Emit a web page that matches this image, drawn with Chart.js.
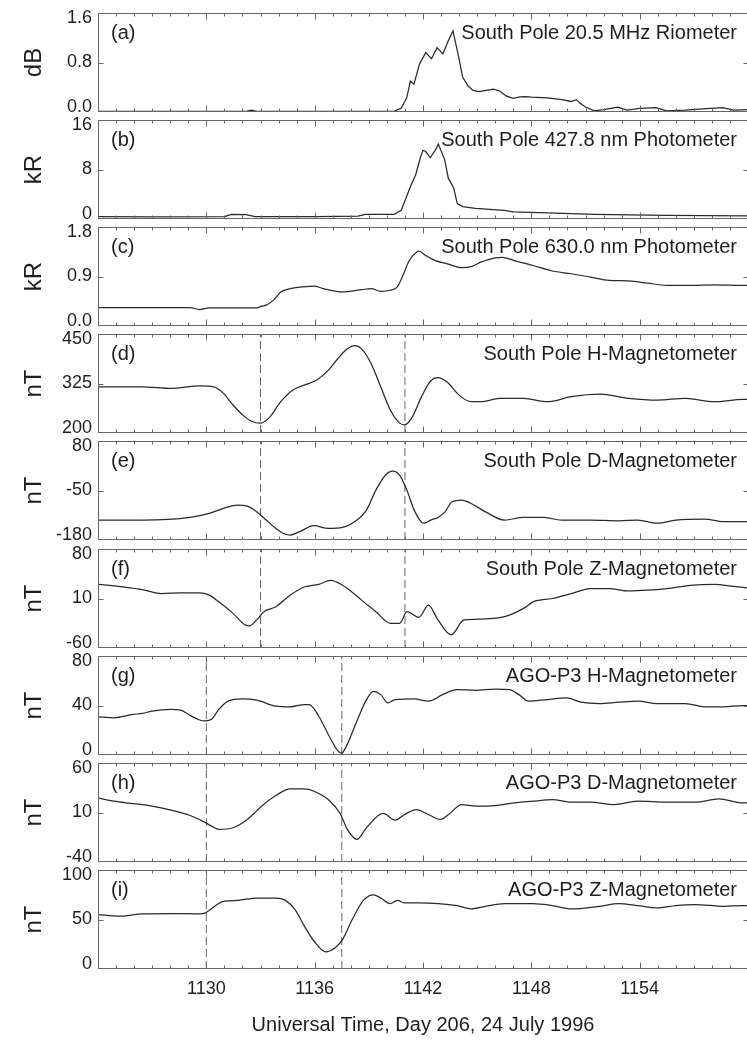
<!DOCTYPE html>
<html lang="en">
<head>
<meta charset="UTF-8">
<title>South Pole and AGO-P3, Day 206, 24 July 1996</title>
<script src="https://cdn.jsdelivr.net/npm/chart.js"></script>
<style>
  html, body { margin: 0; padding: 0; background: #fff; overflow: hidden; }
  #wrap { position: relative; width: 747px; height: 1042px; overflow: hidden; }
  #wrap canvas { position: absolute; left: 0; }
</style>
</head>
<body>
<div id="wrap"></div>
<script>
// [minute (UT hhmm), value]
const riometer = [[1124.0,0.01],[1128.0,0.01],[1132.2,0.01],[1132.5,0.03],[1132.8,0.01],[1136.0,0.01],[1140.4,0.01],
  [1140.8,0.065],[1141.1,0.23],[1141.3,0.50],[1141.5,0.45],[1141.8,0.77],[1142.15,0.96],[1142.47,0.86],[1142.78,1.04],
  [1143.1,0.94],[1143.4,1.15],[1143.66,1.31],[1143.94,0.94],[1144.2,0.56],[1144.5,0.42],[1144.77,0.35],[1145.1,0.33],
  [1145.5,0.35],[1145.9,0.37],[1146.25,0.34],[1146.6,0.26],[1147.0,0.22],[1147.36,0.245],[1147.7,0.25],[1148.0,0.24],
  [1148.9,0.23],[1149.7,0.20],[1150.2,0.17],[1150.5,0.20],[1150.7,0.14],[1151.0,0.08],[1151.5,0.02],[1152.0,0.04],
  [1152.8,0.08],[1153.3,0.03],[1154.0,0.06],[1154.9,0.07],[1155.5,0.02],[1156.5,0.03],[1157.5,0.05],[1158.6,0.07],
  [1159.2,0.03],[1160.0,0.04]];
const phot4278 = [[1124.0,0.4],[1127.0,0.35],[1131.0,0.4],[1131.4,0.75],[1132.2,0.7],[1132.7,0.4],[1136.0,0.4],[1138.4,0.45],
  [1138.8,0.75],[1140.4,0.75],[1140.8,1.4],[1141.05,3.3],[1141.3,5.2],[1141.6,7.2],[1141.85,9.9],[1142.0,11.1],
  [1142.15,10.9],[1142.4,9.9],[1142.7,11.2],[1142.85,12.1],[1143.2,9.6],[1143.4,6.6],[1143.7,5.0],[1143.9,2.5],
  [1144.2,2.0],[1144.9,1.7],[1145.5,1.6],[1146.5,1.4],[1147.0,1.15],[1148.9,1.0],[1151.5,0.76],[1155.5,0.6],[1160.0,0.5]];
const phot6300 = [[1124.0,0.336],[1126.46,0.336],[1129.10,0.336],[1129.63,0.30],[1130.16,0.33],[1132.79,0.33],[1133.06,0.36],
  [1133.32,0.38],[1133.72,0.47],[1134.12,0.62],[1134.64,0.68],[1135.30,0.71],[1135.96,0.726],[1136.49,0.68],[1137.55,0.62],
  [1138.60,0.66],[1139.13,0.68],[1139.66,0.63],[1140.19,0.65],[1140.58,0.71],[1140.85,0.89],[1141.24,1.19],[1141.64,1.34],
  [1141.77,1.36],[1142.16,1.28],[1142.69,1.19],[1143.35,1.13],[1144.14,1.06],[1144.67,1.08],[1145.20,1.16],[1145.99,1.24],
  [1146.39,1.25],[1147.05,1.19],[1148.10,1.10],[1149.16,1.00],[1150.21,0.95],[1151.27,0.89],[1152.32,0.83],[1153.38,0.82],
  [1154.43,0.78],[1155.49,0.74],[1156.81,0.74],[1158.13,0.75],[1159.71,0.74],[1160.0,0.74]];
const spH = [[1124.0,316.7],[1126.46,316.7],[1128.05,312.5],[1129.63,319],[1130.42,316.7],[1130.95,300],[1131.48,270.8],
  [1132.01,245.8],[1132.53,229],[1133.01,225],[1133.46,237.5],[1134.12,279],[1134.78,308],[1135.43,321],[1136.09,333],
  [1136.75,358],[1137.28,387.5],[1137.81,412.5],[1138.21,420.8],[1138.60,412.5],[1139.13,375],[1139.66,316.7],[1140.19,258],
  [1140.71,225],[1140.98,220.8],[1141.37,237.5],[1141.90,290],[1142.43,332],[1142.83,340],[1143.35,328],[1144.01,295],
  [1144.67,279],[1145.20,279],[1146.25,287.5],[1147.57,287.5],[1148.89,279],[1150.21,291.7],[1151.79,298],[1153.38,287.5],
  [1154.96,283],[1156.54,287.5],[1158.13,279],[1159.71,285],[1160.0,285]];
const spD = [[1124.0,-127.7],[1126.46,-127.7],[1129.10,-120.7],[1130.16,-110],[1130.95,-97],[1131.74,-88.4],[1132.27,-91],
  [1132.79,-105.8],[1133.32,-127.7],[1133.85,-149.5],[1134.38,-165],[1134.64,-167],[1135.17,-158],[1135.96,-142.5],
  [1136.75,-149.5],[1137.55,-147],[1138.34,-127.7],[1138.87,-101.5],[1139.39,-49],[1139.92,-9.9],[1140.32,0.6],[1140.71,-10],
  [1141.11,-49],[1141.51,-101.5],[1142.03,-136],[1142.43,-127.7],[1142.83,-120.7],[1143.22,-106],[1143.61,-79.6],
  [1144.14,-75],[1144.67,-84],[1145.46,-106],[1146.52,-127.7],[1147.57,-120.7],[1148.63,-120.7],[1149.68,-127.7],
  [1151.27,-127.7],[1152.85,-129.5],[1153.90,-127.7],[1154.96,-136],[1156.01,-127.7],[1157.60,-125],[1158.65,-132],
  [1159.71,-132],[1160.0,-132]];
const spZ = [[1124.0,30.1],[1125.41,26.3],[1126.46,22.6],[1127.52,17],[1128.58,18],[1129.63,18],[1130.16,14.7],[1130.69,5.3],
  [1131.48,-11],[1132.14,-27.3],[1132.40,-28.7],[1132.79,-20.3],[1133.19,-8.7],[1133.85,-1.7],[1134.64,14.7],[1135.43,26.3],
  [1136.22,30],[1136.89,35.7],[1137.55,28.7],[1138.60,7.7],[1139.39,-8.7],[1140.19,-25],[1140.71,-25],[1141.11,-8.7],
  [1141.77,-16.6],[1142.30,0.7],[1142.83,-20.3],[1143.56,-41.3],[1144.27,-20.3],[1144.93,-19.4],[1146.52,-15.7],
  [1147.57,-4],[1148.10,5.3],[1149.16,10],[1150.21,17],[1151.27,24],[1152.32,24],[1153.38,20.7],[1154.43,21.7],
  [1155.49,24],[1156.81,28.7],[1158.13,30],[1159.18,27.3],[1159.84,25.4],[1160.0,25]];
const agoH = [[1124.0,30.9],[1124.88,30.1],[1125.94,32.8],[1126.46,33.6],[1126.99,35.5],[1128.05,36.8],[1128.58,36.3],
  [1129.10,32],[1129.63,28.3],[1129.95,27.5],[1130.29,28.8],[1130.69,36.8],[1131.21,43.5],[1132.01,45.3],[1132.79,44.3],
  [1133.85,39.5],[1134.64,38.9],[1135.43,40.8],[1135.70,40.8],[1136.22,31.5],[1136.75,16.8],[1137.28,3.5],[1137.49,1.5],
  [1137.81,8.8],[1138.34,27.5],[1138.87,44.8],[1139.26,51.5],[1139.66,48.8],[1140.05,42.1],[1140.45,44.8],[1141.51,45.3],
  [1142.30,43.5],[1143.09,48.8],[1143.88,52.8],[1144.93,52.3],[1145.99,53.3],[1146.78,52.8],[1147.31,48.8],[1147.84,43.5],
  [1148.89,44.8],[1149.95,46.1],[1150.74,42.7],[1151.79,41.6],[1152.85,42.7],[1153.90,43.5],[1154.96,41.6],[1156.54,41.6],
  [1157.60,38.9],[1158.65,38.9],[1159.71,40],[1160.0,40]];
const agoD = [[1124.0,24.8],[1124.88,21.4],[1125.94,19],[1126.99,16.4],[1128.05,12.3],[1129.10,7],[1129.90,0.3],[1130.29,-3.8],
  [1130.69,-7.1],[1131.48,-5.4],[1132.27,3],[1133.06,16.4],[1133.85,27.1],[1134.64,33.8],[1135.43,33.8],[1135.96,31.5],
  [1136.75,23.1],[1137.41,9],[1137.81,-7.1],[1138.34,-17.2],[1138.87,-5.4],[1139.79,9],[1140.45,2.3],[1140.98,8],
  [1141.64,13],[1142.30,8],[1142.96,3],[1143.48,9],[1144.14,18],[1144.93,16.4],[1145.99,17],[1147.05,19.7],[1148.10,21.4],
  [1149.16,23.1],[1150.21,20.4],[1151.27,20.4],[1152.58,18],[1153.90,21.4],[1155.49,20.4],[1157.07,20.4],[1158.39,23.8],
  [1159.71,19.7],[1160.0,19.7]];
const agoZ = [[1124.0,55],[1125.15,53.3],[1126.46,55.7],[1128.05,56],[1129.63,55.7],[1129.95,56.7],[1130.16,59.3],[1130.95,68.3],
  [1131.74,69.3],[1132.79,71.7],[1133.85,71.7],[1134.38,69.3],[1134.91,60],[1135.43,43.3],[1135.96,28.3],[1136.62,17.3],
  [1137.15,21.7],[1137.55,30],[1138.08,50],[1138.73,70],[1139.26,75],[1139.66,71.7],[1140.19,66],[1140.58,69.3],
  [1140.98,66.7],[1141.77,66.7],[1142.83,66],[1143.88,64],[1144.67,60.7],[1145.46,63.3],[1146.52,66],[1148.10,66],
  [1149.16,64],[1150.21,60.7],[1151.79,63.3],[1152.85,66],[1153.90,64],[1154.96,61.7],[1156.01,64],[1157.07,65],
  [1158.65,63.3],[1159.71,64],[1160.0,64]];

const series = [riometer, phot4278, phot6300, spH, spD, spZ, agoH, agoD, agoZ];
const letters = ['(a)', '(b)', '(c)', '(d)', '(e)', '(f)', '(g)', '(h)', '(i)'];
const titles = ['South Pole 20.5 MHz Riometer', 'South Pole 427.8 nm Photometer', 'South Pole 630.0 nm Photometer',
  'South Pole H-Magnetometer', 'South Pole D-Magnetometer', 'South Pole Z-Magnetometer',
  'AGO-P3 H-Magnetometer', 'AGO-P3 D-Magnetometer', 'AGO-P3 Z-Magnetometer'];
const units = ['dB', 'kR', 'kR', 'nT', 'nT', 'nT', 'nT', 'nT', 'nT'];
const yTicks = [[0, 0.8, 1.6], [0, 8, 16], [0, 0.9, 1.8], [200, 325, 450], [-180, -50, 80],
  [-60, 10, 80], [0, 40, 80], [-40, 10, 60], [0, 50, 100]];
const yTickText = [['0.0', '0.8', '1.6'], ['0', '8', '16'], ['0.0', '0.9', '1.8'], ['200', '325', '450'],
  ['-180', '-50', '80'], ['-60', '10', '80'], ['0', '40', '80'], ['-40', '10', '60'], ['0', '50', '100']];
const xTicks = [1130, 1136, 1142, 1148, 1154];
const xRange = [1124, 1160];
const markSP = [1133, 1141];     // dashed lines, panels d-f
const markAGO = [1130, 1137.5];  // dashed lines, panels g-i
const marks = [[], [], [], markSP, markSP, markSP, markAGO, markAGO, markAGO];
const xTitle = 'Universal Time, Day 206, 24 July 1996';

const FONT = '"Liberation Sans", Arial, Helvetica, sans-serif';
const INK = '#1e1e1e';
Chart.defaults.font.family = FONT;

const panelTop = [13, 120, 227, 334, 441, 549, 656, 763, 870];
const panelH = 99;
const PAD = 6;

// box, inward ticks, panel letter and title
const frame = {
  id: 'frame',
  afterDraw(chart, args, o) {
    const { ctx, chartArea: a } = chart;
    const x = chart.scales.x, y = chart.scales.y;
    const L = Math.round(a.left) + 0.5, R = Math.round(a.right) + 0.5;
    const T = Math.round(a.top) + 0.5, B = Math.round(a.bottom) - 0.5;
    ctx.save();
    ctx.strokeStyle = '#666';
    ctx.lineWidth = 1;
    ctx.strokeRect(L, T, R - L, B - T);
    ctx.beginPath();
    for (let m = xRange[0] + 1; m < xRange[1]; m++) {
      const px = Math.round(x.getPixelForValue(m)) + 0.5;
      const len = (m - xRange[0]) % 6 === 0 ? 6 : 3;
      ctx.moveTo(px, T); ctx.lineTo(px, T + len);
      ctx.moveTo(px, B); ctx.lineTo(px, B - len);
    }
    const py = Math.round(y.getPixelForValue(yTicks[o.idx][1])) + 0.5;
    ctx.moveTo(L, py); ctx.lineTo(L + 5, py);
    ctx.moveTo(R, py); ctx.lineTo(R - 5, py);
    ctx.stroke();
    ctx.fillStyle = INK;
    ctx.font = '20px ' + FONT;
    ctx.textBaseline = 'alphabetic';
    ctx.textAlign = 'left';
    ctx.fillText(letters[o.idx], a.left + 13, a.top + 26);
    ctx.textAlign = 'right';
    ctx.fillText(titles[o.idx], a.right - 11, a.top + 26);
    ctx.restore();
  }
};

const wrap = document.getElementById('wrap');
series.forEach((pts, i) => {
  const last = i === series.length - 1;
  const cv = document.createElement('canvas');
  const cTop = panelTop[i] - PAD;
  const cH = last ? 1042 - cTop : panelH + 2 * PAD;
  cv.width = 750;
  cv.height = cH;
  cv.style.top = cTop + 'px';
  wrap.appendChild(cv);

  const lo = yTicks[i][0], hi = yTicks[i][2];
  const datasets = [{
    data: pts.map(p => ({ x: p[0], y: p[1] })),
    borderColor: '#2a2a2a',
    borderWidth: 1.25,
    pointRadius: 0,
    tension: i < 2 ? 0 : 0.4,
    cubicInterpolationMode: i < 2 ? 'default' : 'monotone'
  }];
  marks[i].forEach(t => datasets.push({
    data: [{ x: t, y: lo }, { x: t, y: hi }],
    borderColor: '#666',
    borderWidth: 1,
    borderDash: [8, 4],
    pointRadius: 0
  }));

  new Chart(cv, {
    type: 'line',
    data: { datasets },
    plugins: [frame],
    options: {
      responsive: false,
      animation: false,
      events: [],
      layout: { padding: { left: 0, right: 2, top: PAD, bottom: last ? 0 : PAD } },
      plugins: { legend: { display: false }, tooltip: { enabled: false }, frame: { idx: i } },
      scales: {
        x: {
          type: 'linear',
          min: xRange[0],
          max: xRange[1],
          display: last,
          afterBuildTicks: s => { s.ticks = xTicks.map(v => ({ value: v })); },
          afterFit: s => {
            s.paddingLeft = 0; s.paddingRight = 0;
            if (last) s.height = 1042 - (panelTop[i] + panelH);
          },
          grid: { display: false, drawTicks: false },
          border: { display: false },
          ticks: {
            autoSkip: false, maxRotation: 0, padding: 9, color: INK,
            font: { size: 18 },
            callback: v => String(v)
          },
          title: {
            display: true, text: xTitle, color: INK,
            font: { size: 20 }, padding: { top: 0, bottom: 5 }
          }
        },
        y: {
          type: 'linear',
          min: lo,
          max: hi,
          afterBuildTicks: s => { s.ticks = yTicks[i].map(v => ({ value: v })); },
          afterFit: s => { s.width = 98; s.paddingTop = 0; s.paddingBottom = 0; },
          grid: { display: false, drawTicks: false },
          border: { display: false },
          ticks: {
            autoSkip: false, padding: 6, color: INK,
            font: { size: 18, lineHeight: '10px' },
            // nudge end labels inward, as in the figure
            callback: (v, k) => k === 0 ? [yTickText[i][0], ''] : (k === 2 ? ['', yTickText[i][2]] : yTickText[i][1])
          },
          title: {
            display: true, text: units[i], color: INK,
            font: { size: 24 }, padding: { top: 20, bottom: 0 }
          }
        }
      }
    }
  });
});
</script>
</body>
</html>
